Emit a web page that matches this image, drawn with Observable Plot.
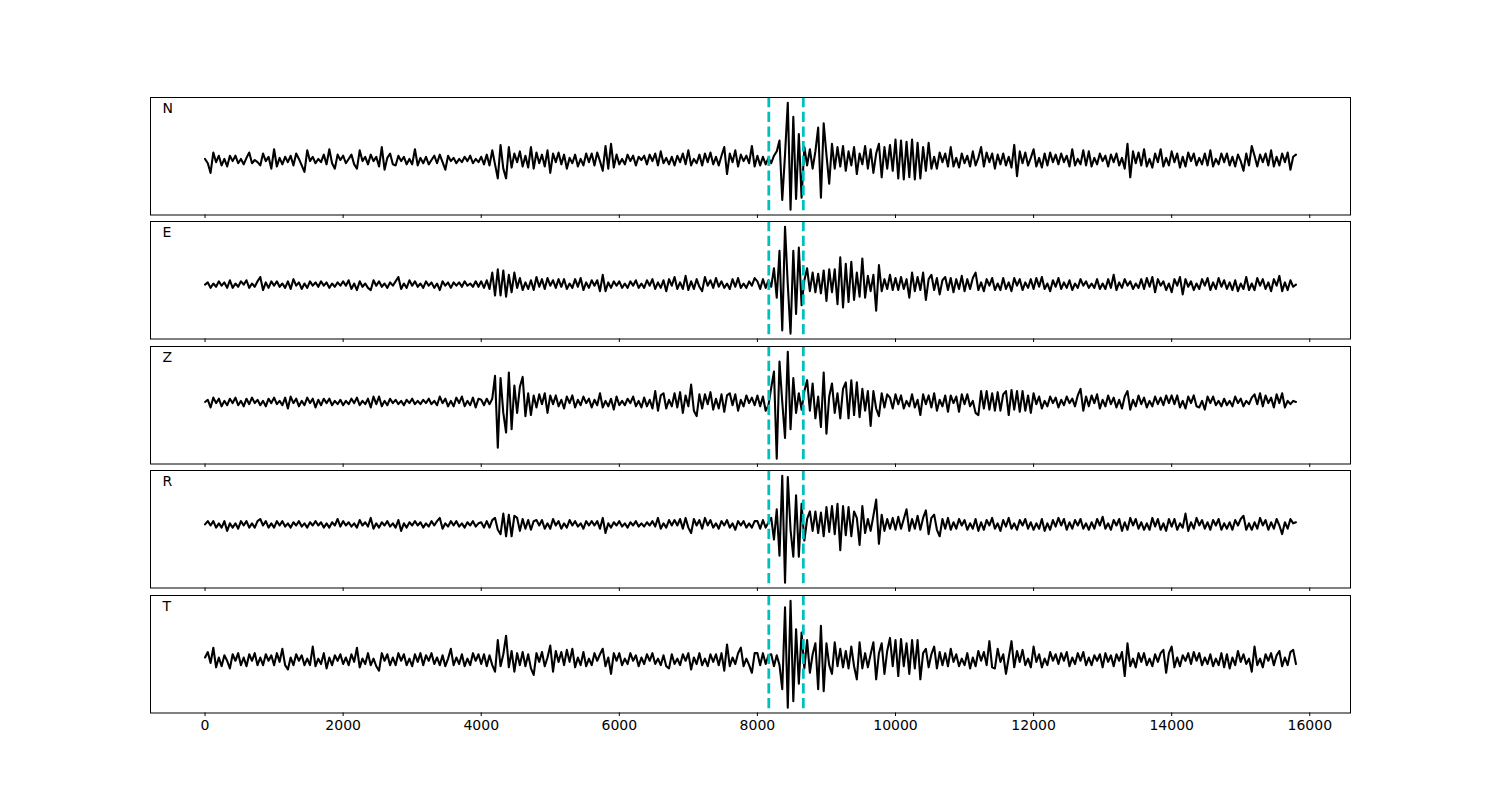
<!DOCTYPE html>
<html>
<head>
<meta charset="utf-8">
<script src="https://cdn.jsdelivr.net/npm/d3@7"></script>
<script src="https://cdn.jsdelivr.net/npm/@observablehq/plot@0.6"></script>
<style>
  html, body { margin: 0; padding: 0; background: #ffffff; }
  #fig { position: relative; width: 1500px; height: 800px; background: #ffffff; font-family: "DejaVu Sans", sans-serif; }
</style>
</head>
<body>
<div id="fig"></div>
<script>
// ---- data (amplitudes, one value every 40 samples, 0..15800) ----
const channels = ["N", "E", "Z", "R", "T"];
const sampleStep = 40;
const xTicks = [0, 2000, 4000, 6000, 8000, 10000, 12000, 14000, 16000];
const pickTimes = [8165, 8665];

const nVals = [
  1, -3, -12, 7, -2, 4, -5, 1, -6, 4,
  -1, 4, -3, 1, -4, 2, 7, -3, 0, -2,
  -5, 6, -1, 3, -8, 10, -6, 2, -4, 3,
  -2, 4, -5, 6, 1, -5, -11, 9, -1, 3,
  -3, 1, -2, 5, -4, 10, -3, -8, 5, 0,
  4, -3, 1, 5, -4, -8, 9, -1, 3, -4,
  5, -1, 3, -6, 12, -9, 2, 6, -4, -5,
  4, -1, 3, -4, 1, -4, 10, -5, 2, -3,
  3, -4, 0, 4, -3, 5, -2, -9, 4, -1,
  2, -3, 1, -2, 3, -1, 4, -3, 1, -2,
  3, -4, 5, -5, 9, -4, -17, 14, -8, -17,
  12, -7, 6, -2, 8, -6, 4, -7, 12, -8,
  7, -3, 5, -6, 9, -12, 6, -2, 7, -4,
  5, -8, 2, -3, 5, -6, 1, -5, 6, -2,
  6, -5, 7, -1, -10, 13, -8, 15, -7, 5,
  -4, 1, -4, 5, -1, 4, -5, 3, 0, 4,
  -4, 5, -1, 6, -5, 8, -3, 2, -4, 3,
  -5, 4, -2, 6, -4, 9, -5, 1, -3, 5,
  -5, 6, -2, 7, -4, 3, -5, 4, 12, -13,
  6, -2, 9, -6, 5, -1, 4, -3, 13, -6,
  4, -5, 3, -4, 2, -3, 4, 8, 18, -37,
  5, 53, -46, 40, -36, 24, -35, 12, -5, 10,
  -8, 8, 30, -35, 34, 5, -22, 15, -8, 12,
  -6, 13, -10, 8, -5, 12, -13, 6, -4, 13,
  -8, 10, -12, 6, 15, -16, 12, -8, 14, -10,
  19, -17, 18, -18, 17, -16, 19, -18, 16, -17,
  12, -10, 16, -8, 3, -8, 7, -2, 6, -6,
  12, -6, 2, -7, 6, -3, 4, -6, 8, -5,
  2, 12, -6, 7, -2, 6, -8, 5, -4, 6,
  -5, 3, -7, 14, -15, 8, -3, 7, -5, 2,
  10, -6, 2, -7, 6, -5, 7, -2, 5, -4,
  6, -2, 4, -6, 10, -5, 1, -4, 9, -5,
  8, -6, 2, -4, 6, -1, 4, -6, 5, -2,
  6, -5, 2, -8, 15, -16, 8, -3, 7, -5,
  10, -6, 1, -7, 6, -2, 10, -6, 2, -5,
  8, -2, 6, -7, 3, -6, 7, -1, 6, -5,
  2, -4, 6, -5, 9, -6, 1, -4, 6, -2,
  6, -5, 3, -6, 5, -1, -10, 6, -5, 13,
  4, -6, 5, -2, 6, -5, 9, -6, 3, -5,
  6, -2, 7, -9, 3, 5
];

const eVals = [
  0, 2, -3, 1, -2, 3, -1, 2, -3, 4,
  -3, 1, -2, 3, 0, 4, -3, 1, -2, 3,
  7, -5, 2, -3, 3, -1, 3, -2, 1, -3,
  3, -4, 5, -1, 2, -4, 1, -3, 3, -1,
  2, -2, 3, -1, 2, -3, 1, -2, 2, -1,
  3, -1, 4, -4, 1, -5, 3, -2, 1, -3,
  -5, 4, -1, 3, -2, 1, -3, 2, -1, 3,
  7, -4, 1, -3, 4, -1, 3, -2, 1, -3,
  3, -1, 2, -3, 1, -5, 3, -1, 2, -3,
  2, -1, 2, -2, 3, -1, 1, -2, 3, -2,
  3, -3, 4, -4, 11, -10, 14, -10, 13, -11,
  9, -7, 11, -3, 6, -5, 2, -4, 4, -5,
  7, -2, 5, -4, 6, -1, 4, -3, 5, -2,
  5, -4, 1, -3, 5, -2, 6, -5, 2, -3,
  4, -1, 4, -6, 9, -6, 2, -3, 3, -1,
  3, -3, 1, -3, 3, -1, 4, -3, 1, -3,
  4, -1, 5, -4, 2, -3, 4, -6, 5, -1,
  7, -4, 2, -4, 8, -5, 3, -4, 5, -2,
  -6, 7, -1, 4, -3, 6, -2, 3, -3, 1,
  -4, 5, -2, 6, -3, 1, -3, 3, -1, 6,
  3, -4, 5, -3, 4, -2, 15, -12, 31, -42,
  53, 0, -45, 31, -27, 34, -19, 4, 15, -6,
  11, -7, 10, -8, 13, -15, 14, -7, 14, -18,
  25, -21, 19, -16, 21, -14, 11, -11, 24, -12,
  8, -6, 9, -24, 18, -6, 5, -4, 9, -5,
  6, -5, 7, -4, 5, -12, 11, -6, 7, -5,
  11, -14, 5, 9, -5, 6, -9, 4, 7, -5,
  6, -7, 5, -4, 8, -6, 5, -4, 6, 11,
  -5, 2, -6, 5, -1, 6, -5, 1, -5, 6,
  -4, 2, -6, 6, -1, 5, -5, 2, -3, 5,
  -4, 6, -2, 7, -4, 1, -6, 4, -2, 6,
  -4, 2, -3, 4, -5, 1, -3, 5, -1, 3,
  -3, 1, -3, 5, -4, 1, -4, 5, -3, 9,
  -5, 2, -3, 5, -1, 3, -4, 1, -3, 5,
  -4, 6, -2, 7, -7, 5, -1, 3, -5, 1,
  -7, 5, -1, 7, -9, 5, -2, 3, -5, 1,
  -4, 5, -1, 6, -5, 2, -4, 6, -2, 4,
  -4, 2, -5, 4, -6, 1, -4, 7, -5, 1,
  -5, 6, -1, 5, -4, 2, -6, 5, -1, 8,
  -6, 2, -5, 4, -2, 0
];

const zVals = [
  0, 2, -5, 4, -1, 3, -4, 1, -3, 3,
  -1, 4, -3, 1, -4, 3, -2, 4, -1, 2,
  -3, 1, -4, 3, -1, 4, -2, 1, -3, 4,
  -6, 5, -1, 3, -4, 1, -3, 4, -1, 3,
  -5, 2, -3, 3, -1, 3, -3, 1, -2, 2,
  -3, 1, -2, 3, -1, 4, -3, 1, -2, 3,
  -5, 5, -2, 5, -4, 1, -3, 3, -1, 2,
  -2, 1, -3, 2, -1, 3, -2, 1, -2, 2,
  -1, 3, -2, 1, -3, 5, -1, 3, -4, 1,
  -4, 4, -1, 5, -4, 1, -3, 4, -5, 3,
  2, -3, 3, -2, 3, 24, -42, 22, -10, -28,
  27, -25, 15, -10, 14, 23, -13, 8, -12, 6,
  -5, 7, -2, 8, -10, 6, -2, 6, -4, 2,
  -6, 5, -1, 6, -5, 2, -3, 5, -1, 3,
  -5, 2, -3, 8, -5, 1, -4, 3, -7, 5,
  -3, 1, -3, 3, -1, 5, -4, 1, -5, 4,
  -4, 2, -6, 10, -8, 6, 8, -6, 2, -4,
  8, -5, 9, -10, 6, -4, 16, -8, -13, 7,
  -6, 7, -2, 9, -7, 3, -6, 7, -9, 6,
  8, -3, 7, -8, 2, -4, 6, -1, 4, -3,
  6, -4, 5, -8, -3, 13, 28, -52, 37, 0,
  -33, 46, -25, 22, -10, 8, -7, 10, 20, -8,
  17, -15, 5, -23, 27, -29, 5, 17, -10, 8,
  -15, 12, 18, -15, 20, -12, 18, -14, 12, -8,
  10, -22, 10, -6, -13, 8, -5, 7, 4, -6,
  7, -2, 6, -6, 1, -4, 7, -5, 2, -12,
  7, -2, 6, -5, 8, -8, 2, -4, 6, -9,
  6, -1, 5, -9, 7, -2, 7, -4, 1, -10,
  -12, 10, -6, 10, -7, 8, -8, 9, -8, 7,
  10, -12, 11, -7, 10, -9, 10, -8, 6, -10,
  8, -2, 5, -6, 1, -4, 5, -1, 4, -5,
  2, -3, 5, -1, 3, -4, 6, 12, -8, 5,
  -4, 6, -1, 7, -6, 2, -4, 6, -2, 4,
  -5, 2, -6, 5, 10, -7, 2, -4, 6, -2,
  4, -5, 1, -4, 5, -2, 4, -3, 6, -1,
  6, -2, 6, -5, 1, -6, 5, -1, 6, -4,
  -5, 1, -7, 5, -1, 5, -3, 1, -4, 3,
  -3, 1, -4, 5, -1, 3, -4, 1, -2, 4,
  7, -2, 8, -4, 6, -1, 4, -5, 7, -1,
  8, -5, 1, -2, 1, 0
];

const rVals = [
  0, 3, -1, 3, -3, 1, -3, 3, -6, 1,
  -3, 1, -4, 3, -1, 3, -3, 1, -3, 3,
  5, -1, 3, -3, 1, -3, 3, -1, 3, -2,
  1, -3, 2, -1, 3, -2, 1, -3, 2, -1,
  3, -1, 2, -3, 1, -3, 2, -1, 5, -2,
  3, -1, 2, -2, 1, -3, 4, -1, 2, -2,
  6, -4, 1, -3, 2, -1, 3, -2, 1, -3,
  4, -6, 1, -3, 2, -1, 3, -1, 2, -3,
  1, -2, 3, -1, 3, 6, -4, 1, -2, 3,
  -1, 3, -2, 1, -3, 2, -1, 3, -2, 1,
  2, -3, 3, -3, 4, 6, -5, -9, 10, -11,
  9, -11, 8, 6, -6, 5, -4, 4, -5, 3,
  4, -1, 4, -4, 1, -4, 5, -1, 3, -4,
  1, -3, 4, -1, 3, -2, 1, -4, 3, -1,
  3, -1, 3, -4, 6, -8, 1, -3, 2, -1,
  3, -2, 1, -3, 2, -1, 3, -2, 1, -2,
  2, -1, 3, -2, 6, -4, 1, -3, 4, -1,
  4, -1, 5, -4, 6, -3, -8, 5, -1, 4,
  -4, 6, -1, 4, -3, 1, -4, 3, -1, 4,
  -3, 1, -5, 3, -1, 3, -3, 1, -3, 3,
  3, -4, 4, -3, 2, 6, -14, 14, -29, 45,
  -54, 44, -5, -30, 27, -30, 19, -15, 5, 12,
  -6, 12, -8, 11, -11, 16, -7, 17, -9, 19,
  -24, 17, -10, 16, -11, 12, 6, -19, 17, -8,
  5, -6, 8, 23, -18, 9, -6, 5, -4, 6,
  -5, 7, -4, 5, 14, -6, 5, -4, 8, -5,
  6, 13, -9, 6, 9, -5, -11, 5, -4, 6,
  -5, 2, -4, 5, -1, 4, -5, 1, -4, 5,
  -6, 2, -5, 4, -1, 6, -4, 1, -6, 4,
  -2, 6, -4, 1, -5, 4, -1, 5, -4, 2,
  -5, 1, -4, 5, -6, 1, -5, 4, -2, 6,
  -1, 5, -5, 2, -4, 4, -1, 5, -4, 1,
  -5, 2, -4, 5, -1, 7, -4, 1, -5, 4,
  -1, 5, -6, 2, -5, 6, -1, 5, -4, 2,
  -5, 1, -5, 6, -2, 5, -5, 1, -6, 5,
  -2, 5, -5, 1, -3, 10, -6, 2, -4, 6,
  -1, 4, -4, 2, -5, 4, -1, 5, -5, 1,
  -4, 2, -5, 4, -1, 5, 8, -5, 1, -5,
  2, -4, 6, -1, 4, -5, 2, -4, 5, -1,
  -9, 2, -4, 5, 1, 2
];

const tVals = [
  2, 7, -3, 11, -7, 2, -6, 4, -1, -8,
  5, -1, 6, -5, 2, -6, 5, -1, 6, -5,
  2, -5, 5, -1, 4, -5, 6, -2, 10, -5,
  -9, 2, -5, 5, -1, 4, -5, 1, -5, 12,
  -6, 1, -4, 6, -8, 2, -5, 4, -1, 5,
  -4, 2, -5, 5, -2, 11, -7, 1, -4, 6,
  -5, 1, -6, -10, 6, -1, 5, -5, 2, -5,
  6, -1, 5, -5, 1, -6, 5, -2, 6, -5,
  4, -1, 6, -4, 2, -5, 4, -6, 1, 10,
  -5, 2, -4, 5, -6, 1, -5, 6, -1, 5,
  -4, 5, -6, 4, -5, -11, 18, -6, 5, 22,
  -7, 8, -11, 6, -5, 7, -6, 5, -8, -14,
  6, -2, 7, -6, 2, 13, -11, 8, -2, 7,
  -5, 9, -2, 10, -7, 2, -5, 7, -6, 1,
  -5, 6, -1, 5, 10, -6, 2, -13, 6, -1,
  6, -5, 1, -4, 6, -1, 4, -6, 2, -4,
  5, -1, 6, -4, 1, -5, 4, -6, -8, 5,
  -4, 1, -5, 5, -1, 6, -9, 2, -4, 6,
  -5, 1, -6, 5, -2, 5, -5, 6, -10, 14,
  -6, 2, -4, 6, 11, -6, 1, -5, -12, 6,
  6, -5, 6, -4, 4, 5, -6, 4, -5, -27,
  48, -44, 54, -38, 28, -22, 25, -8, 18, -12,
  5, 15, -27, 31, -29, 15, -5, -13, 16, -6,
  10, -7, 8, -8, 12, -6, -18, 16, -8, 6,
  -7, 5, 16, -18, 6, 15, -13, 8, 20, -6,
  18, -15, 19, -6, 15, -13, 18, -8, 18, -18,
  6, 10, -7, 5, 12, -8, 7, -5, 6, -6,
  10, -2, 5, -6, 1, -5, 6, -8, 2, -6,
  8, -1, 7, -5, 17, -7, -8, 10, -2, 5,
  -13, 2, 17, -7, 8, -2, 9, -5, 1, -7,
  12, -2, 5, -7, 1, -5, 7, -1, 5, -4,
  6, -1, 7, -6, 2, -4, 6, -1, 7, -5,
  2, -5, 4, -1, 5, -7, 6, -2, 4, -6,
  5, -1, 7, -15, 15, -6, 1, -7, 6, -2,
  6, -5, 1, -6, 5, -2, 6, 9, -12, 6,
  12, -7, 2, -6, 4, -1, 6, -4, 7, -1,
  6, -5, 2, -4, 5, -6, 1, -5, 6, -7,
  5, -8, 2, -5, 8, -2, 5, -4, 1, -11,
  12, -5, 1, -7, 5, -1, 6, -5, 4, 8,
  -6, 2, -5, 7, 9, -4
];

// ---- drawing ----
const traces = [nVals, eVals, zVals, rVals, tVals];
const fig = document.getElementById("fig");
const lastT = (nVals.length - 1) * sampleStep;
const xPad = lastT * 0.05;
const xDomain = [-xPad, lastT + xPad];
const panelTop = 96.5, panelH = 117.5, panelGap = 7;

channels.forEach((ch, i) => {
  const vals = traces[i];
  const data = vals.map((v, j) => ({t: j * sampleStep, v}));
  const [lo, hi] = d3.extent(vals);
  const pad = (hi - lo) * 0.05;
  const isLast = i === channels.length - 1;
  const mt = 1, mb = isLast ? 40 : 8;
  const svg = Plot.plot({
    width: 1500,
    height: panelH + mt + mb,
    marginLeft: 150,
    marginRight: 150,
    marginTop: mt,
    marginBottom: mb,
    x: {domain: xDomain},
    y: {domain: [lo - pad, hi + pad], axis: null},
    style: {fontFamily: "DejaVu Sans", fontSize: "14px", color: "black", background: "transparent", overflow: "visible"},
    marks: [
      Plot.line(data, {x: "t", y: "v", stroke: "black", strokeWidth: 2.08, strokeLinejoin: "round"}),
      Plot.ruleX(pickTimes, {x: d => d, stroke: "#00bfbf", strokeWidth: 2.78, strokeDasharray: "10.3,4.4"}),
      Plot.axisX({ticks: xTicks, tickSize: 3.5, tickPadding: 3.5, tickFormat: isLast ? d3.format("d") : () => "", label: null, fontSize: 14}),
      Plot.frame({stroke: "black", strokeWidth: 1}),
      Plot.text([ch], {text: d => d, frameAnchor: "top-left", dx: 12, dy: 6, textAnchor: "start", lineAnchor: "top", fontSize: 14, fill: "black"})
    ]
  });
  svg.style.position = "absolute";
  svg.style.left = "0px";
  svg.style.top = (panelTop + i * (panelH + panelGap) - mt) + "px";
  fig.appendChild(svg);
});
</script>
</body>
</html>
